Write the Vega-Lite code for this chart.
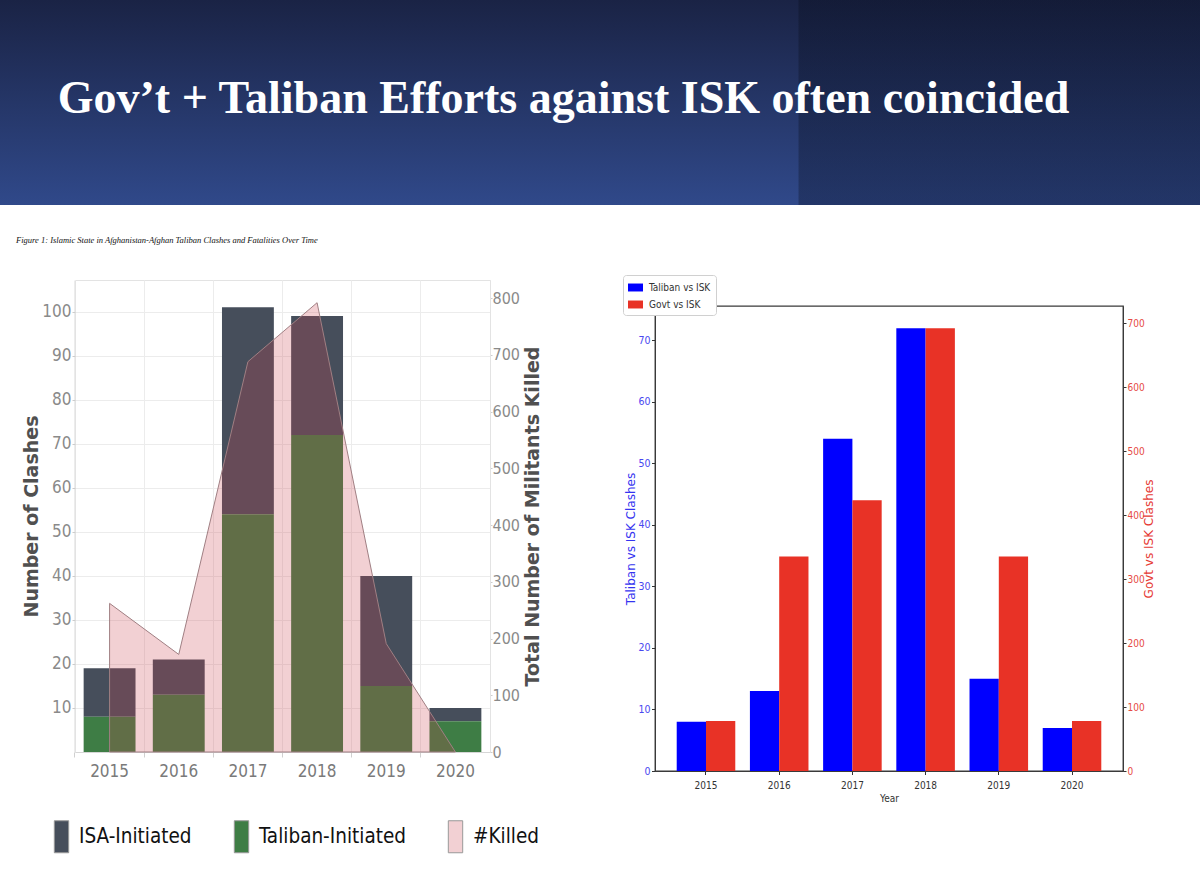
{
  "$schema": "https://vega.github.io/schema/vega-lite/v6.json",
  "padding": 0,
  "background": "white",
  "columns": 1,
  "align": "none",
  "spacing": 30,
  "resolve": {"scale": {"color": "independent", "x": "independent"}, "legend": {"color": "independent"}},
  "datasets": {
    "header": [{"title": "Gov’t + Taliban Efforts against ISK often coincided"}],
    "empty": [],
    "clashes": [
      {"year": "2015", "type": "ISA-Initiated", "clashes": 11},
      {"year": "2015", "type": "Taliban-Initiated", "clashes": 8},
      {"year": "2016", "type": "ISA-Initiated", "clashes": 8},
      {"year": "2016", "type": "Taliban-Initiated", "clashes": 13},
      {"year": "2017", "type": "ISA-Initiated", "clashes": 47},
      {"year": "2017", "type": "Taliban-Initiated", "clashes": 54},
      {"year": "2018", "type": "ISA-Initiated", "clashes": 27},
      {"year": "2018", "type": "Taliban-Initiated", "clashes": 72},
      {"year": "2019", "type": "ISA-Initiated", "clashes": 25},
      {"year": "2019", "type": "Taliban-Initiated", "clashes": 15},
      {"year": "2020", "type": "ISA-Initiated", "clashes": 3},
      {"year": "2020", "type": "Taliban-Initiated", "clashes": 7}
    ],
    "killed": [
      {"year": "2015", "series": "#Killed", "killed": 262},
      {"year": "2016", "series": "#Killed", "killed": 172},
      {"year": "2017", "series": "#Killed", "killed": 688},
      {"year": "2018", "series": "#Killed", "killed": 792},
      {"year": "2019", "series": "#Killed", "killed": 191},
      {"year": "2020", "series": "#Killed", "killed": 0}
    ],
    "right": [
      {"year": "2015", "series": "Taliban vs ISK", "value": 8},
      {"year": "2016", "series": "Taliban vs ISK", "value": 13},
      {"year": "2017", "series": "Taliban vs ISK", "value": 54},
      {"year": "2018", "series": "Taliban vs ISK", "value": 72},
      {"year": "2019", "series": "Taliban vs ISK", "value": 15},
      {"year": "2020", "series": "Taliban vs ISK", "value": 7},
      {"year": "2015", "series": "Govt vs ISK", "value": 78},
      {"year": "2016", "series": "Govt vs ISK", "value": 335},
      {"year": "2017", "series": "Govt vs ISK", "value": 423},
      {"year": "2018", "series": "Govt vs ISK", "value": 692},
      {"year": "2019", "series": "Govt vs ISK", "value": 335},
      {"year": "2020", "series": "Govt vs ISK", "value": 78}
    ]
  },
  "concat": [
    {
      "width": 1200,
      "height": 205,
      "data": {"name": "header"},
      "view": {"stroke": null, "fill": "#26386a"},
      "layer": [
        {
          "mark": {"type": "rect", "color": {"gradient": "linear", "x1": 0, "y1": 0, "x2": 0, "y2": 1, "stops": [{"offset": 0, "color": "#1a2345"}, {"offset": 1, "color": "#30498a"}]}},
          "encoding": {}
        },
        {
          "mark": {"type": "rect", "color": {"gradient": "linear", "x1": 0, "y1": 0, "x2": 1, "y2": 0, "stops": [{"offset": 0, "color": "rgba(0,0,0,0)"}, {"offset": 0.665, "color": "rgba(0,0,0,0)"}, {"offset": 0.666, "color": "rgba(5,10,25,0.3)"}, {"offset": 1, "color": "rgba(5,10,25,0.3)"}]}},
          "encoding": {}
        },
        {
          "mark": {"type": "text", "color": "white", "font": "Liberation Serif", "fontWeight": "bold", "fontSize": 46, "dx": -36.5, "dy": 10.5, "baseline": "alphabetic", "align": "center"},
          "encoding": {"text": {"field": "title"}}
        }
      ]
    },
    {
      "columns": 4,
      "align": "none",
      "spacing": 0,
      "resolve": {"scale": {"color": "independent", "x": "independent", "xOffset": "independent"}, "legend": {"color": "independent"}},
      "concat": [
        {"width": 15, "height": 1, "data": {"name": "empty"}, "mark": {"type": "point", "opacity": 0}, "view": {"stroke": null}},
        {
          "width": 415,
          "height": 472,
          "title": {"text": "Figure 1: Islamic State in Afghanistan-Afghan Taliban Clashes and Fatalities Over Time", "anchor": "start", "frame": "group", "dx": -59, "font": "Liberation Serif", "fontStyle": "italic", "fontSize": 8.5, "fontWeight": "normal", "color": "#111", "offset": 29, "baseline": "alphabetic"},
          "view": {"stroke": "#e3e3e3", "strokeWidth": 1},
          "layer": [
            {
              "data": {"name": "clashes"},
              "mark": {"type": "bar", "stroke": null},
              "encoding": {
                "x": {"field": "year", "type": "ordinal", "scale": {"paddingInner": 0.25, "paddingOuter": 0.125},
                  "axis": {"title": null, "bandPosition": -0.1667, "labelAngle": 0, "labelFont": "DejaVu Sans Condensed, sans-serif", "labelFontSize": 17, "labelColor": "#7a7a7a", "labelPadding": 6, "tickColor": "#d0d0d0", "tickSize": 5, "domainColor": "#d6d6d6", "grid": true, "gridColor": "#ececec"}},
                "y": {"field": "clashes", "type": "quantitative", "stack": "zero", "scale": {"domain": [0, 107.2], "nice": false},
                  "axis": {"orient": "left", "title": "Number of Clashes", "values": [10, 20, 30, 40, 50, 60, 70, 80, 90, 100], "grid": true, "gridColor": "#ececec", "domain": false, "tickSize": 3, "tickColor": "#cccccc", "labelFont": "DejaVu Sans Condensed, sans-serif", "labelFontSize": 17, "labelColor": "#8a8a8a", "labelPadding": 1, "titleFont": "DejaVu Sans", "titleFontSize": 19, "titleFontWeight": "bold", "titleColor": "#505050", "titlePadding": 0}},
                "color": {"field": "type", "type": "nominal",
                  "scale": {"domain": ["ISA-Initiated", "Taliban-Initiated", "#Killed"], "range": ["#464e5b", "#3e7d45", "#cc4450"]},
                  "legend": {"orient": "none", "legendX": -30, "legendY": 540, "direction": "horizontal", "columns": 3, "title": null, "symbolType": "M-0.45,-1H0.45V1H-0.45Z", "symbolSize": 1024, "symbolStrokeColor": "#999999", "symbolStrokeWidth": 1, "labelFont": "DejaVu Sans Condensed, sans-serif", "labelFontSize": 20.5, "labelColor": "#111111", "labelOffset": 1, "columnPadding": 33, "labelLimit": 300,
                    "encode": {"symbols": {"update": {"fillOpacity": {"signal": "datum.value === '#Killed' ? 0.25 : 1"}, "opacity": {"value": 1}}}}}},
                "order": {"field": "type", "sort": "descending"}
              }
            },
            {
              "data": {"name": "killed"},
              "mark": {"type": "area", "fillOpacity": 0.25, "stroke": "#a07f83", "strokeWidth": 1},
              "encoding": {
                "x": {"field": "year", "type": "ordinal"},
                "y": {"field": "killed", "type": "quantitative", "scale": {"domain": [0, 832], "nice": false},
                  "axis": {"orient": "right", "title": "Total Number of Militants Killed", "titleAngle": 270, "titleBaseline": "top", "values": [0, 100, 200, 300, 400, 500, 600, 700, 800], "grid": false, "domain": true, "domainColor": "#e3e3e3", "tickSize": 2, "tickColor": "#cccccc", "labelFont": "DejaVu Sans Condensed, sans-serif", "labelFontSize": 16, "labelColor": "#8a8a8a", "labelPadding": 0, "titleFont": "DejaVu Sans", "titleFontSize": 19, "titleFontWeight": "bold", "titleColor": "#505050", "titlePadding": 4}},
                "color": {"field": "series", "type": "nominal"}
              }
            }
          ],
          "resolve": {"scale": {"y": "independent"}}
        },
        {"width": 79, "height": 1, "data": {"name": "empty"}, "mark": {"type": "point", "opacity": 0}, "view": {"stroke": null}},
        {
          "columns": 1,
          "align": "none",
          "spacing": 0,
          "concat": [
            {"width": 1, "height": 25, "data": {"name": "empty"}, "mark": {"type": "point", "opacity": 0}, "view": {"stroke": null}},
            {
              "width": 468,
              "height": 465,
              "data": {"name": "right"},
              "view": {"stroke": "#3a3a3a", "strokeWidth": 1.3},
              "encoding": {
                "x": {"field": "year", "type": "ordinal", "scale": {"paddingInner": 0.2, "paddingOuter": 0.2966},
                  "axis": {"title": "Year", "labelAngle": 0, "labelFont": "DejaVu Sans Condensed, sans-serif", "labelFontSize": 10, "labelColor": "#333333", "tickSize": 3.5, "tickColor": "#333333", "domainColor": "#3a3a3a", "labelPadding": 6, "titleFont": "DejaVu Sans Condensed, sans-serif", "titleFontSize": 10, "titleFontWeight": "normal", "titleColor": "#333333", "titlePadding": 3, "grid": false}},
                "xOffset": {"field": "series", "type": "nominal", "scale": {"domain": ["Taliban vs ISK", "Govt vs ISK"]}},
                "color": {"field": "series", "type": "nominal",
                  "scale": {"domain": ["Taliban vs ISK", "Govt vs ISK"], "range": ["#0000ff", "#e83226"]},
                  "legend": {"orient": "none", "legendX": -32, "legendY": -5, "title": null, "symbolType": "M-1,-0.53H1V0.53H-1Z", "symbolSize": 225, "symbolStrokeWidth": 0, "labelFont": "DejaVu Sans Condensed, sans-serif", "labelFontSize": 10, "labelColor": "#333333", "fillColor": "white", "strokeColor": "#d0d0d0", "padding": 5, "cornerRadius": 3, "rowPadding": 4, "labelOffset": 6}}
              },
              "layer": [
                {
                  "transform": [{"filter": "datum.series === 'Taliban vs ISK'"}],
                  "mark": {"type": "bar"},
                  "encoding": {
                    "y": {"field": "value", "type": "quantitative", "scale": {"domain": [0, 75.6], "nice": false},
                      "axis": {"orient": "left", "title": "Taliban vs ISK Clashes", "values": [0, 10, 20, 30, 40, 50, 60, 70], "grid": false, "domainColor": "#3a3a3a", "tickColor": "#333333", "tickSize": 3.5, "labelFont": "DejaVu Sans Condensed, sans-serif", "labelFontSize": 10.5, "labelColor": "#4848f0", "labelPadding": 1.5, "titleFont": "DejaVu Sans", "titleFontSize": 12, "titleFontWeight": "normal", "titleColor": "#3434f0", "titlePadding": 0}}
                  }
                },
                {
                  "transform": [{"filter": "datum.series === 'Govt vs ISK'"}],
                  "mark": {"type": "bar"},
                  "encoding": {
                    "y": {"field": "value", "type": "quantitative", "scale": {"domain": [0, 726.6], "nice": false},
                      "axis": {"orient": "right", "title": "Govt vs ISK Clashes", "titleAngle": 270, "titleBaseline": "top", "values": [0, 100, 200, 300, 400, 500, 600, 700], "grid": false, "domainColor": "#3a3a3a", "tickColor": "#333333", "tickSize": 3, "labelFont": "DejaVu Sans Condensed, sans-serif", "labelFontSize": 10, "labelColor": "#e64a44", "labelPadding": 1, "titleFont": "DejaVu Sans", "titleFontSize": 12, "titleFontWeight": "normal", "titleColor": "#e63a34", "titlePadding": -1}}
                  }
                }
              ],
              "resolve": {"scale": {"y": "independent"}}
            }
          ]
        }
      ]
    }
  ]
}
